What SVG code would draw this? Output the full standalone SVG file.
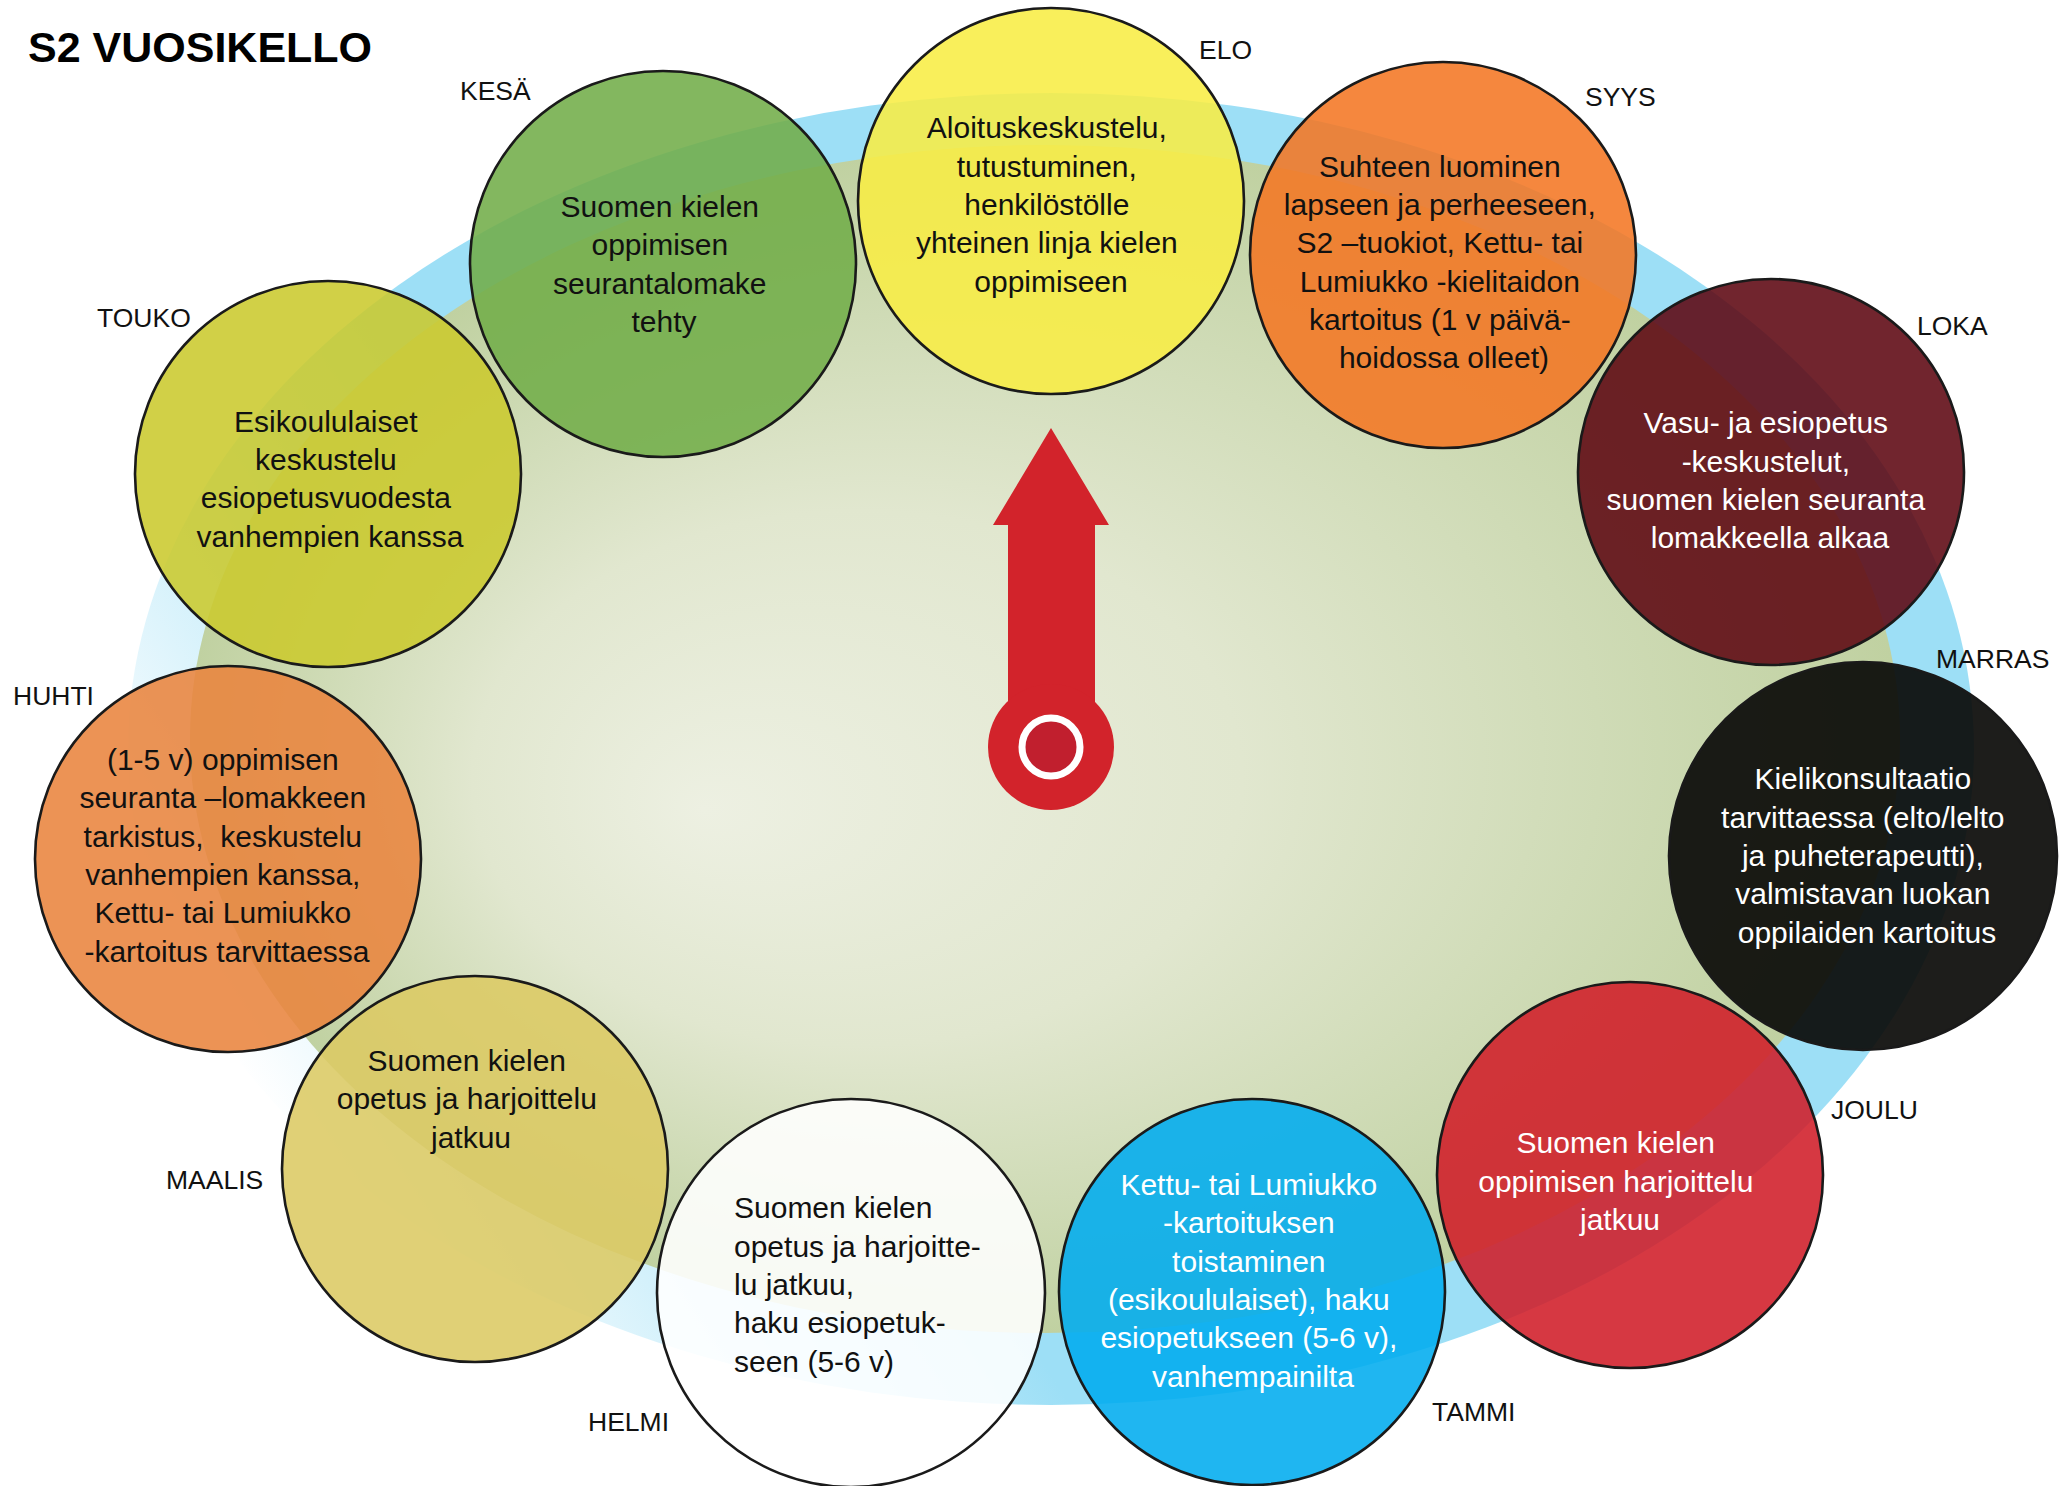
<svg xmlns="http://www.w3.org/2000/svg" width="2069" height="1486" viewBox="0 0 2069 1486">
  <defs>
    <linearGradient id="ringFill" gradientUnits="userSpaceOnUse" x1="130" y1="900" x2="560" y2="620">
      <stop offset="0" stop-color="#ffffff"/>
      <stop offset="1" stop-color="#9ddff6"/>
    </linearGradient>
    <radialGradient id="faceFill" cx="0.5" cy="0.5" r="0.5" fx="0.3" fy="0.56">
      <stop offset="0" stop-color="#edf0e2"/>
      <stop offset="0.45" stop-color="#e1e7cf"/>
      <stop offset="1" stop-color="#c0d1a1"/>
    </radialGradient>
    <style>
      .bubble { stroke: #1a1a1a; stroke-width: 2.6; fill-opacity: 0.88; }
      .txt { font-family: "Liberation Sans", Arial, sans-serif; font-size: 30px; text-anchor: middle; }
      .txt-left { font-family: "Liberation Sans", Arial, sans-serif; font-size: 30px; text-anchor: start; }
      .dark { fill: #111111; }
      .light { fill: #ffffff; }
      .month { font-family: "Liberation Sans", Arial, sans-serif; font-size: 26.5px; fill: #111111; }
      .title { font-family: "Liberation Sans", Arial, sans-serif; font-size: 43px; font-weight: bold; fill: #000000; }
    </style>
  </defs>

  <rect x="0" y="0" width="2069" height="1486" fill="#ffffff"/>

  <!-- clock face: outer ring and inner dial -->
  <g id="clock-face">
    <ellipse cx="1051" cy="749" rx="923" ry="656" fill="url(#ringFill)"/>
    <ellipse cx="1045" cy="739" rx="855" ry="594" fill="url(#faceFill)"/>
  </g>

  <text class="title" x="28" y="62">S2 VUOSIKELLO</text>

  <!-- clock hand pointing at August -->
  <g id="clock-hand">
    <path d="M1051,428 L1109,525 L1095,525 L1095,712 L1008,712 L1008,525 L993,525 Z" fill="#d2232b"/>
    <circle cx="1051" cy="747" r="63" fill="#d2232b"/>
    <circle cx="1051" cy="747" r="29" fill="#c11f2e" stroke="#ffffff" stroke-width="7"/>
  </g>

  <g id="connectors"></g>

  <!-- August -->
  <g id="node-elo">
    <circle class="bubble" cx="1051" cy="201" r="193" fill="#f8ed44"/>
    <text class="txt dark">
      <tspan x="1051" y="138">Aloituskeskustelu,</tspan>
      <tspan x="1051" y="177">tutustuminen,</tspan>
      <tspan x="1051" y="215">henkilöstölle</tspan>
      <tspan x="1051" y="253">yhteinen linja kielen</tspan>
      <tspan x="1051" y="292">oppimiseen</tspan>
    </text>
    <text class="month" x="1199" y="59">ELO</text>
  </g>

  <!-- September -->
  <g id="node-syys">
    <circle class="bubble" cx="1443" cy="255" r="193" fill="#f47623"/>
    <text class="txt dark">
      <tspan x="1444" y="177">Suhteen luominen</tspan>
      <tspan x="1444" y="215">lapseen ja perheeseen,</tspan>
      <tspan x="1444" y="253">S2 –tuokiot, Kettu- tai</tspan>
      <tspan x="1444" y="292">Lumiukko -kielitaidon</tspan>
      <tspan x="1444" y="330">kartoitus (1 v päivä-</tspan>
      <tspan x="1444" y="368">hoidossa olleet)</tspan>
    </text>
    <text class="month" x="1585" y="106">SYYS</text>
  </g>

  <!-- October -->
  <g id="node-loka">
    <circle class="bubble" cx="1771" cy="472" r="193" fill="#5d0711"/>
    <text class="txt light">
      <tspan x="1770" y="433">Vasu- ja esiopetus</tspan>
      <tspan x="1770" y="472">-keskustelut,</tspan>
      <tspan x="1770" y="510">suomen kielen seuranta</tspan>
      <tspan x="1770" y="548">lomakkeella alkaa</tspan>
    </text>
    <text class="month" x="1917" y="335">LOKA</text>
  </g>

  <!-- November -->
  <g id="node-marras">
    <circle class="bubble" cx="1863" cy="856" r="194" fill="#0a0a08" style="fill-opacity:0.92"/>
    <text class="txt light">
      <tspan x="1867" y="789">Kielikonsultaatio</tspan>
      <tspan x="1867" y="828">tarvittaessa (elto/lelto</tspan>
      <tspan x="1867" y="866">ja puheterapeutti),</tspan>
      <tspan x="1867" y="904">valmistavan luokan</tspan>
      <tspan x="1867" y="943">oppilaiden kartoitus</tspan>
    </text>
    <text class="month" x="1936" y="668">MARRAS</text>
  </g>

  <!-- December -->
  <g id="node-joulu">
    <circle class="bubble" cx="1630" cy="1175" r="193" fill="#d01d28"/>
    <text class="txt light">
      <tspan x="1620" y="1153">Suomen kielen</tspan>
      <tspan x="1620" y="1192">oppimisen harjoittelu</tspan>
      <tspan x="1620" y="1230">jatkuu</tspan>
    </text>
    <text class="month" x="1831" y="1119">JOULU</text>
  </g>

  <!-- January -->
  <g id="node-tammi">
    <circle class="bubble" cx="1252" cy="1292" r="193" fill="#00acef"/>
    <text class="txt light">
      <tspan x="1253" y="1195">Kettu- tai Lumiukko</tspan>
      <tspan x="1253" y="1233">-kartoituksen</tspan>
      <tspan x="1253" y="1272">toistaminen</tspan>
      <tspan x="1253" y="1310">(esikoululaiset), haku</tspan>
      <tspan x="1253" y="1348">esiopetukseen (5-6 v),</tspan>
      <tspan x="1253" y="1387">vanhempainilta</tspan>
    </text>
    <text class="month" x="1432" y="1421">TAMMI</text>
  </g>

  <!-- February -->
  <g id="node-helmi">
    <circle class="bubble" cx="851" cy="1293" r="194" fill="#ffffff"/>
    <text class="txt-left dark">
      <tspan x="734" y="1218">Suomen kielen</tspan>
      <tspan x="734" y="1257">opetus ja harjoitte-</tspan>
      <tspan x="734" y="1295">lu jatkuu,</tspan>
      <tspan x="734" y="1333">haku esiopetuk-</tspan>
      <tspan x="734" y="1372">seen (5-6 v)</tspan>
    </text>
    <text class="month" x="588" y="1431">HELMI</text>
  </g>

  <!-- March -->
  <g id="node-maalis">
    <circle class="bubble" cx="475" cy="1169" r="193" fill="#dcca63"/>
    <text class="txt dark">
      <tspan x="471" y="1071">Suomen kielen</tspan>
      <tspan x="471" y="1109">opetus ja harjoittelu</tspan>
      <tspan x="471" y="1148">jatkuu</tspan>
    </text>
    <text class="month" x="166" y="1189">MAALIS</text>
  </g>

  <!-- April -->
  <g id="node-huhti">
    <circle class="bubble" cx="228" cy="859" r="193" fill="#e9843e"/>
    <text class="txt dark">
      <tspan x="227" y="770">(1-5 v) oppimisen</tspan>
      <tspan x="227" y="808">seuranta –lomakkeen</tspan>
      <tspan x="227" y="847">tarkistus,&#160; keskustelu</tspan>
      <tspan x="227" y="885">vanhempien kanssa,</tspan>
      <tspan x="227" y="923">Kettu- tai Lumiukko</tspan>
      <tspan x="227" y="962">-kartoitus tarvittaessa</tspan>
    </text>
    <text class="month" x="13" y="705">HUHTI</text>
  </g>

  <!-- May -->
  <g id="node-touko">
    <circle class="bubble" cx="328" cy="474" r="193" fill="#cbc92d"/>
    <text class="txt dark">
      <tspan x="330" y="432">Esikoululaiset</tspan>
      <tspan x="330" y="470">keskustelu</tspan>
      <tspan x="330" y="508">esiopetusvuodesta</tspan>
      <tspan x="330" y="547">vanhempien kanssa</tspan>
    </text>
    <text class="month" x="97" y="327">TOUKO</text>
  </g>

  <!-- June -->
  <g id="node-kesa">
    <circle class="bubble" cx="663" cy="264" r="193" fill="#72ad49"/>
    <text class="txt dark">
      <tspan x="664" y="217">Suomen kielen</tspan>
      <tspan x="664" y="255">oppimisen</tspan>
      <tspan x="664" y="294">seurantalomake</tspan>
      <tspan x="664" y="332">tehty</tspan>
    </text>
    <text class="month" x="460" y="100">KESÄ</text>
  </g>
</svg>
